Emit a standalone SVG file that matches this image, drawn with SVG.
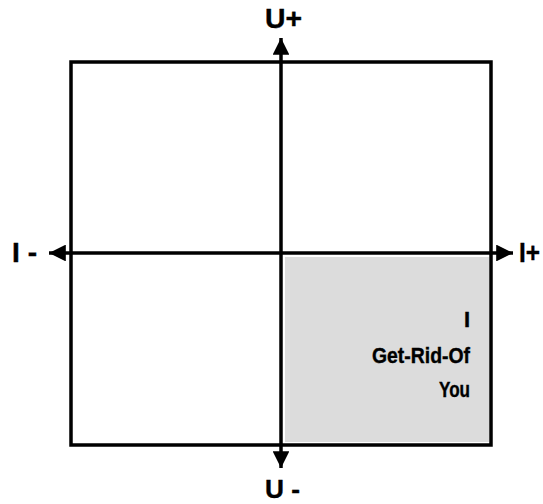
<svg xmlns="http://www.w3.org/2000/svg" width="543" height="504" viewBox="0 0 543 504">
<style>
.lbl{font-family:"Liberation Sans",Arial,sans-serif;font-weight:bold;fill:#000;stroke:#000;stroke-width:0.4}
.ax{stroke:#000;stroke-width:3.5;fill:none}
</style>
<defs>
<marker id="ah" viewBox="0 0 10 10" refX="10" refY="5" markerWidth="4.8" markerHeight="4.8" orient="auto" markerUnits="strokeWidth">
<path d="M0,0 L10,5 L0,10 z" fill="#000"/>
</marker>
</defs>
<rect width="543" height="504" fill="#fff"/>
<g id="quadrant-frame">
<rect x="71" y="62" width="420" height="383" fill="none" stroke="#000" stroke-width="3.5"/>
</g>
<g id="quadrant-iv">
<rect x="285" y="257" width="204" height="185" fill="#dcdcdc"/>
<text class="lbl" font-size="22" text-anchor="end" x="470" y="327">I</text>
<text class="lbl" font-size="22" text-anchor="end" x="470" y="363" textLength="98" lengthAdjust="spacingAndGlyphs">Get-Rid-Of</text>
<text class="lbl" font-size="22" text-anchor="end" x="470" y="397" textLength="31" lengthAdjust="spacingAndGlyphs">You</text>
</g>
<g id="connectors">
<line class="ax" x1="281" y1="253" x2="281" y2="38" marker-end="url(#ah)"/>
<line class="ax" x1="281" y1="253" x2="281" y2="468" marker-end="url(#ah)"/>
<line class="ax" x1="281" y1="253" x2="49" y2="253" marker-end="url(#ah)"/>
<line class="ax" x1="281" y1="253" x2="513" y2="253" marker-end="url(#ah)"/>
</g>
<g id="label-uplus"><text class="lbl" font-size="27" x="265" y="28" textLength="37" lengthAdjust="spacingAndGlyphs">U+</text></g>
<g id="label-uminus"><text class="lbl" font-size="26" x="265" y="498" textLength="35" lengthAdjust="spacingAndGlyphs">U -</text></g>
<g id="label-iminus"><text class="lbl" font-size="28" x="12" y="262" textLength="25" lengthAdjust="spacingAndGlyphs">I -</text></g>
<g id="label-iplus"><text class="lbl" font-size="28" x="519" y="262" textLength="21" lengthAdjust="spacingAndGlyphs">I+</text></g>
</svg>
